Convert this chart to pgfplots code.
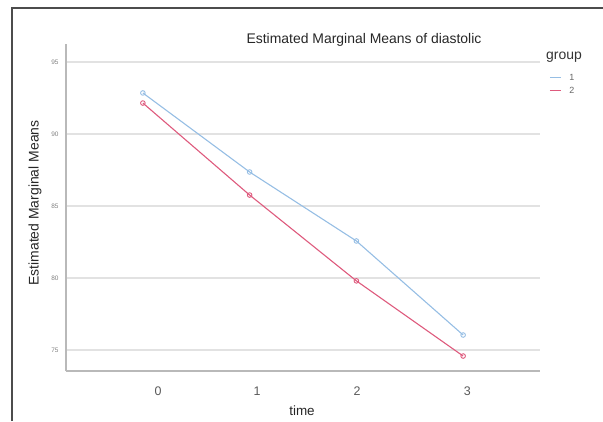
\documentclass[border=0pt]{standalone}
\usepackage{pgfplots}
\pgfplotsset{compat=1.18}
\usepackage{fontspec}
\setmainfont{Liberation Sans}
\definecolor{gOne}{RGB}{150,190,228}
\definecolor{gTwo}{RGB}{222,90,125}
\definecolor{gridc}{RGB}{226,226,226}
\definecolor{axc}{RGB}{185,185,185}
\begin{document}
\begin{tikzpicture}
\begin{axis}[
  name=ax, scale only axis,
  width=474bp, height=327bp,
  xmin=-0.72, xmax=3.72, ymin=73.54, ymax=96.25,
  axis x line*=bottom, axis y line*=left,
  axis line style={draw=axc, line width=1.2bp},
  xtick={0.142,1.07,2.007,3.04}, xticklabels={0,1,2,3},
  ytick={75,80,85,90,95},
  major tick length=0pt,
  ymajorgrids, grid style={draw=gridc, line width=1.2bp},
  xticklabel style={font=\fontsize{12.5}{14}\selectfont, text=black!65, yshift=-12bp},
  yticklabel style={font=\fontsize{6.5}{8}\selectfont, text=black!50, xshift=-4bp},
  /pgf/number format/assume math mode=true,
  clip=false,
  legend style={at={(axis description cs:1.019,0.917)}, anchor=north west,
    draw=none, fill=none, font=\fontsize{9}{11}\selectfont, text=black!60,
    row sep=0bp, inner sep=0bp, nodes={inner xsep=8bp, text height=7bp, text depth=2bp}},
  legend cell align=left,
  legend image code/.code={\draw[#1, mark=none] (0bp,0bp) -- (11bp,0bp);},
]
\addplot[color=gOne, line width=1.1bp, mark=o, mark size=2.3bp, mark options={line width=0.9bp}]
  coordinates {(0,92.85) (1,87.36) (2,82.57) (3,76.04)};
\addlegendentry{1}
\addplot[color=gTwo, line width=1.1bp, mark=o, mark size=2.3bp, mark options={line width=0.9bp}]
  coordinates {(0,92.15) (1,85.76) (2,79.80) (3,74.58)};
\addlegendentry{2}
\end{axis}
\begin{scope}[shift={(ax.south west)}, x=1bp, y=1bp]
\begin{scope}[shift={(-66,-50)}]
\useasboundingbox (0,0) rectangle (603,421);
\draw[line width=1.6bp, black!70] (12,0) -- (12,413) -- (603,413);
\node[font=\fontsize{14}{16}\selectfont, text=black!85] at (364,381) {Estimated Marginal Means of diastolic};
\node[font=\fontsize{14}{16}\selectfont, text=black!85, rotate=90] at (35,218) {Estimated Marginal Means};
\node[font=\fontsize{13.5}{16}\selectfont, text=black!85] at (302,10) {time};
\node[font=\fontsize{14}{16}\selectfont, text=black!80] at (564,364) {group};
\end{scope}
\end{scope}
\end{tikzpicture}
\end{document}
